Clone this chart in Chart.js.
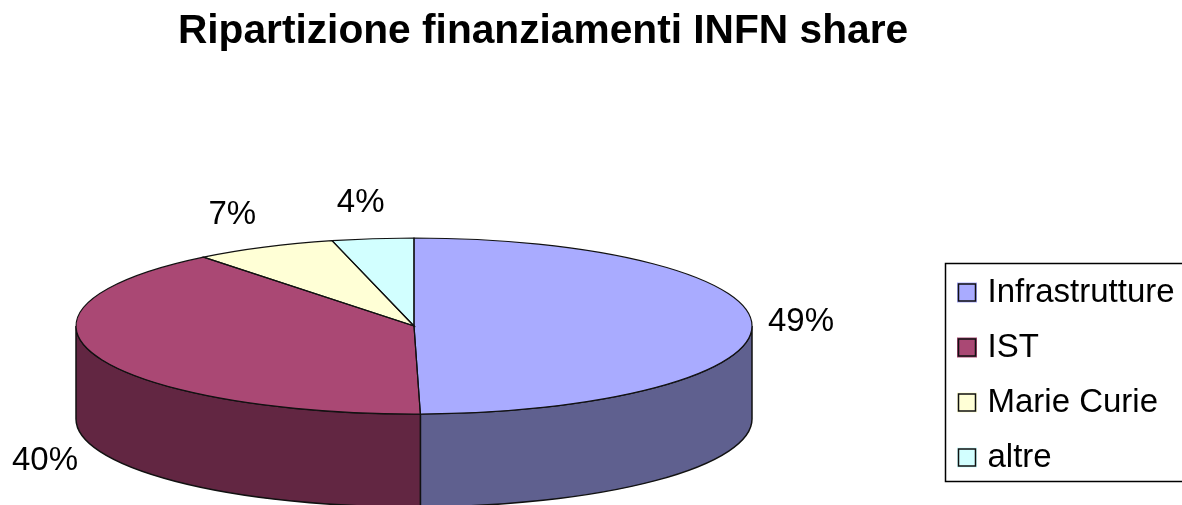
<!DOCTYPE html>
<html><head><meta charset="utf-8">
<style>html,body{margin:0;padding:0;background:#fff;overflow:hidden}canvas{display:block}</style>
<script src="https://cdn.jsdelivr.net/npm/chart.js@4"></script>
</head><body><canvas id="c" width="1182" height="505"></canvas>
<script>
const titleText = 'Ripartizione finanziamenti INFN share';
const categories = ['Infrastrutture', 'IST', 'Marie Curie', 'altre'];
const shares = [49.7, 39.6, 6.8, 3.9];
const shareLabels = ['49%', '40%', '7%', '4%'];
const topColors = ['#A9ABFF', '#AA4874', '#FFFFD6', '#D2FFFF'];
const sideColors = ['#5F608F', '#622642', '#8F8F78', '#758F8F'];

const FONT = '"Liberation Sans", Arial, sans-serif';
const PIE = {cx: 414, cy: 326, rx: 338, ry: 88, depth: 93};
const LABEL_OFFSETS = [[49, -3], [-51, 105], [-32, -32], [-12, -36]];
const LEGEND_FRAME = {left: 945, top: 263, right: 1190, bottom: 481};
const LEGEND_ITEMS = {left: 936, top: 254};

const pie3d = {
  id: 'pie3d',
  afterLayout(chart) {
    const l = chart.legend;
    l.left = LEGEND_ITEMS.left; l.right = 1400;
    l.top = LEGEND_ITEMS.top; l.bottom = 900;
    const t = chart.titleBlock;
    t.left = 0; t.right = 1086; t.top = 7;
  },
  beforeDraw(chart) {
    const ctx = chart.ctx;
    ctx.save();
    ctx.fillStyle = '#fff';
    ctx.fillRect(0, 0, chart.width, chart.height);
    ctx.restore();
  },
  beforeDatasetsDraw(chart) {
    const ctx = chart.ctx, arcs = chart.getDatasetMeta(0).data, P = PIE;
    const r = arcs[0].outerRadius;
    // extruded side: only the front half of each slice
    arcs.forEach((a, i) => {
      const s = Math.max(a.startAngle, 0), e = Math.min(a.endAngle, Math.PI);
      if (e <= s) return;
      ctx.beginPath();
      ctx.ellipse(P.cx, P.cy, P.rx, P.ry, 0, s, e);
      ctx.ellipse(P.cx, P.cy + P.depth, P.rx, P.ry, 0, e, s, true);
      ctx.closePath();
      ctx.fillStyle = sideColors[i];
      ctx.fill();
      ctx.lineWidth = 1.5;
      ctx.strokeStyle = '#111';
      ctx.stroke();
    });
    // top face: the library's arcs, flattened
    arcs.forEach(a => {
      ctx.save();
      ctx.translate(P.cx, P.cy);
      ctx.scale(P.rx / r, P.ry / r);
      ctx.translate(-a.x, -a.y);
      a.draw(ctx);
      ctx.restore();
    });
    arcs.forEach(a => {
      ctx.beginPath();
      ctx.moveTo(P.cx, P.cy);
      ctx.ellipse(P.cx, P.cy, P.rx, P.ry, 0, a.startAngle, a.endAngle);
      ctx.closePath();
      ctx.lineWidth = 1.2;
      ctx.strokeStyle = '#111';
      ctx.stroke();
    });
    // percentage labels
    ctx.fillStyle = '#000';
    ctx.font = '33px ' + FONT;
    ctx.textAlign = 'center';
    ctx.textBaseline = 'middle';
    arcs.forEach((a, i) => {
      const m = (a.startAngle + a.endAngle) / 2;
      const x = P.cx + P.rx * Math.cos(m) + LABEL_OFFSETS[i][0];
      const y = P.cy + P.ry * Math.sin(m) + LABEL_OFFSETS[i][1];
      ctx.fillText(shareLabels[i], x, y);
    });
    return false;
  },
  afterDraw(chart) {
    const ctx = chart.ctx, b = LEGEND_FRAME;
    ctx.save();
    ctx.strokeStyle = '#000';
    ctx.lineWidth = 1.5;
    ctx.strokeRect(b.left + .5, b.top + .5, b.right - b.left, b.bottom - b.top);
    chart.legend.legendHitBoxes.forEach((h, i) => {
      const y = h.top + (h.height - 18) / 2;
      ctx.fillStyle = topColors[i];
      ctx.fillRect(h.left - 1, y - 1, 20, 20);
      ctx.strokeStyle = '#111';
      ctx.lineWidth = 1.5;
      ctx.strokeRect(h.left + .5, y + .5, 17, 17);
    });
    ctx.restore();
  }
};

new Chart(document.getElementById('c'), {
  type: 'pie',
  plugins: [pie3d],
  data: {
    labels: categories,
    datasets: [{data: shares, backgroundColor: topColors, borderWidth: 0}]
  },
  options: {
    responsive: false,
    animation: false,
    events: [],
    plugins: {
      tooltip: {enabled: false},
      title: {
        display: true, text: titleText, color: '#000',
        font: {family: FONT, size: 40.7, weight: 'bold'}, padding: 0
      },
      legend: {
        display: true, position: 'right', align: 'start',
        labels: {
          color: '#000', font: {family: FONT, size: 33},
          boxWidth: 13, boxHeight: 13, padding: 22,
          generateLabels(chart) {
            return categories.map((c, i) => ({
              text: c, fillStyle: topColors[i], strokeStyle: '#111',
              lineWidth: 1.5, index: i, hidden: false
            }));
          }
        }
      }
    }
  }
});
</script></body></html>
